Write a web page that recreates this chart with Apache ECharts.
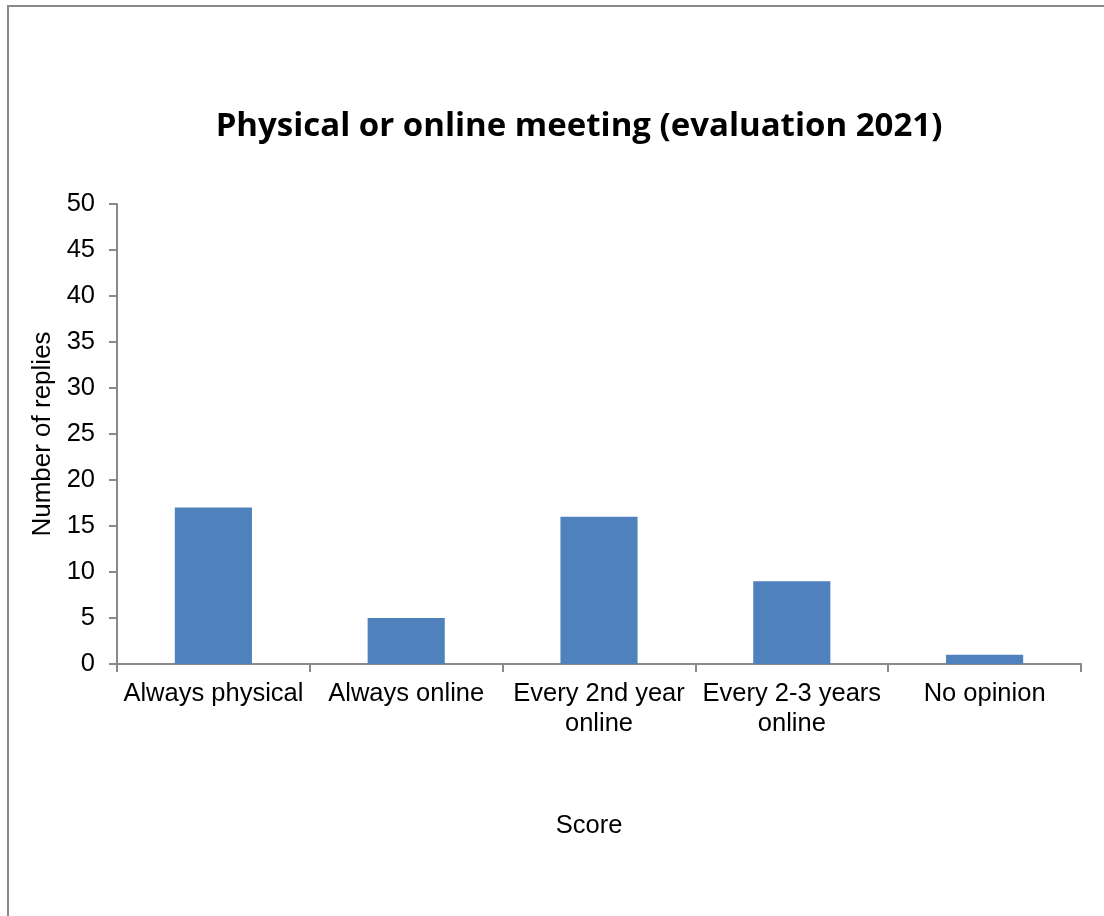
<!DOCTYPE html>
<html><head><meta charset="utf-8">
<script src="https://cdn.jsdelivr.net/npm/echarts@6/dist/echarts.min.js"></script>
<style>html,body{margin:0;padding:0;background:#fff}#c{width:1104px;height:916px}</style>
</head><body><div id="c"></div>
<script>
const categories = ['Always physical', 'Always online', 'Every 2nd year\nonline', 'Every 2-3 years\nonline', 'No opinion'];
const replies = [17, 5, 16, 9, 1];
const chartTitle = 'Physical or online meeting (evaluation 2021)';
const yName = 'Number of replies';
const xName = 'Score';

const chart = echarts.init(document.getElementById('c'), null, {renderer: 'canvas'});
const axisColor = '#898989';
const font = 'Liberation Sans';
chart.setOption({
  animation: false,
  backgroundColor: '#fff',
  title: {
    text: chartTitle, left: 574, top: 105, textAlign: 'center',
    textStyle: {fontFamily: 'Open Sans', fontWeight: 'bold', fontSize: 33, color: '#000'}
  },
  graphic: [{
    type: 'rect', shape: {x: 8, y: 6, width: 1200, height: 1000},
    style: {fill: 'none', stroke: '#8a8a8a', lineWidth: 2}, silent: true, z: -1
  }],
  grid: {left: 117, right: 23, top: 204, bottom: 252, containLabel: false},
  xAxis: {
    type: 'category', data: categories,
    axisLine: {lineStyle: {color: axisColor, width: 2}},
    axisTick: {show: true, alignWithLabel: false, length: 8, lineStyle: {color: axisColor, width: 2}},
    axisLabel: {fontFamily: font, fontSize: 25.5, color: '#000', margin: 15, lineHeight: 30, interval: 0},
    name: xName, nameLocation: 'middle', nameGap: 149,
    nameTextStyle: {fontFamily: font, fontSize: 25.5, color: '#000', padding: [0, 20, 0, 0]}
  },
  yAxis: {
    type: 'value', min: 0, max: 50, interval: 5,
    axisLine: {show: true, lineStyle: {color: axisColor, width: 2}},
    axisTick: {show: true, length: 8, lineStyle: {color: axisColor, width: 2}},
    splitLine: {show: false},
    axisLabel: {fontFamily: font, fontSize: 25.5, color: '#000', margin: 22},
    name: yName, nameLocation: 'middle', nameGap: 58, nameRotate: 90,
    nameTextStyle: {fontFamily: font, fontSize: 26, color: '#000'}
  },
  series: [{
    type: 'bar', data: replies, barWidth: '40%',
    itemStyle: {color: '#4f81bd'}
  }]
});
</script></body></html>
